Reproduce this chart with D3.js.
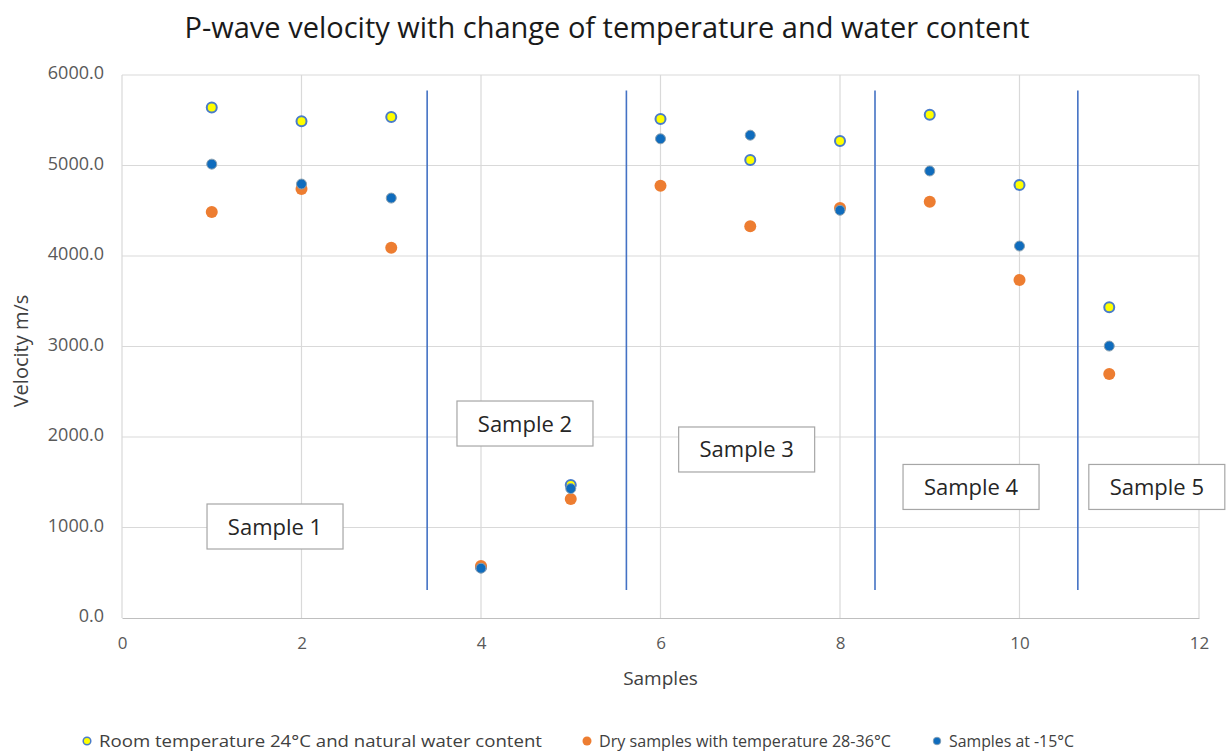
<!DOCTYPE html>
<html>
<head>
<meta charset="utf-8">
<script src="https://cdn.jsdelivr.net/npm/d3@7"></script>
<style>
  body { margin: 0; background: #fff; }
  svg text { font-family: "Open Sans", "Noto Sans", sans-serif; }
</style>
</head>
<body>
<svg id="chart" width="1230" height="754"></svg>
<script>
// P-wave velocity measurements per sample position
const samples = [1, 2, 3, 4, 5, 6, 7, 8, 9, 10, 11];
const roomTemp = [5640, 5490, 5535, 560, 1470, 5515, 5060, 5270, 5560, 4785, 3435];
const drySamples = [4485, 4740, 4090, 575, 1315, 4775, 4330, 4530, 4600, 3735, 2695];
const frozenSamples = [5015, 4795, 4640, 550, 1430, 5295, 5335, 4505, 4940, 4110, 3005];

const xTicks = [0, 2, 4, 6, 8, 10, 12];
const yTicks = [0, 1000, 2000, 3000, 4000, 5000, 6000];

// Group separators (x position in sample units) and group labels
const dividers = [3.4, 5.62, 8.39, 10.65];
const dividerSpan = [310, 5830];
const groupLabels = ["Sample 1", "Sample 2", "Sample 3", "Sample 4", "Sample 5"];
const groupLabelX = [1.705, 4.49, 6.96, 9.46, 11.53];
const groupLabelY = [1011, 2149, 1862, 1448, 1448];

const seriesNames = [
  "Room temperature 24\u00B0C and natural water content",
  "Dry samples with temperature 28-36\u00B0C",
  "Samples at -15\u00B0C"
];

const svg = d3.select("#chart");
const x = d3.scaleLinear().domain([0, 12]).range([122, 1199]);
const y = d3.scaleLinear().domain([0, 6000]).range([618, 75]);

// Title
svg.append("text")
  .attr("x", 607).attr("y", 38)
  .attr("text-anchor", "middle")
  .attr("font-size", 29)
  .attr("fill", "#1a1a1a")
  .text("P-wave velocity with change of temperature and water content");

// Gridlines
const grid = svg.append("g");
grid.selectAll(".hg").data(yTicks.slice(1)).join("line")
  .attr("x1", x(0)).attr("x2", x(12))
  .attr("y1", d => y(d)).attr("y2", d => y(d))
  .attr("stroke", "#d9d9d9").attr("stroke-width", 1.2);
grid.selectAll(".vg").data(xTicks).join("line")
  .attr("x1", d => x(d)).attr("x2", d => x(d))
  .attr("y1", y(0)).attr("y2", y(6000))
  .attr("stroke", "#d9d9d9").attr("stroke-width", 1.2);

// Axes
const xAxis = svg.append("g")
  .attr("transform", `translate(0,${y(0)})`)
  .call(d3.axisBottom(x).tickValues(xTicks).tickSize(0).tickPadding(19).tickFormat(d3.format("d")));
xAxis.select(".domain").attr("stroke", "#bfbfbf").attr("stroke-width", 1.2);
xAxis.selectAll("text").attr("font-size", 17).attr("fill", "#595959");

const yAxis = svg.append("g")
  .attr("transform", `translate(${x(0)},0)`)
  .call(d3.axisLeft(y).tickValues(yTicks).tickSize(0).tickPadding(18).tickFormat(d3.format(".1f")));
yAxis.select(".domain").remove();
yAxis.selectAll("text").attr("font-size", 18).attr("fill", "#595959").attr("dy", "0.2em");

// Axis titles
svg.append("text")
  .attr("x", x(6)).attr("y", 685)
  .attr("text-anchor", "middle").attr("font-size", 19).attr("fill", "#404040")
  .text("Samples");
svg.append("text")
  .attr("transform", `translate(28,${y(2950)}) rotate(-90)`)
  .attr("text-anchor", "middle").attr("font-size", 20).attr("fill", "#404040")
  .text("Velocity m/s");

// Group divider lines
svg.append("g").selectAll("line").data(dividers).join("line")
  .attr("x1", d => x(d)).attr("x2", d => x(d))
  .attr("y1", y(dividerSpan[0])).attr("y2", y(dividerSpan[1]))
  .attr("stroke", "#4472c4").attr("stroke-width", 1.6);

// Group label boxes
const labels = svg.append("g").selectAll("g").data(groupLabels).join("g")
  .attr("transform", (d, i) => `translate(${x(groupLabelX[i])},${y(groupLabelY[i])})`);
labels.append("rect")
  .attr("x", -68).attr("y", -22.5).attr("width", 136).attr("height", 45)
  .attr("fill", "#fff").attr("stroke", "#a6a6a6").attr("stroke-width", 1.2);
labels.append("text")
  .attr("text-anchor", "middle").attr("dy", 8)
  .attr("font-size", 22).attr("fill", "#262626")
  .text(d => d);

// Data markers
const toPts = vals => samples.map((s, i) => ({ s, v: vals[i] }));
const marks = svg.append("g");
marks.selectAll(".room").data(toPts(roomTemp)).join("circle")
  .attr("cx", d => x(d.s)).attr("cy", d => y(d.v)).attr("r", 5)
  .attr("fill", "#ffff00").attr("stroke", "#4a7cc9").attr("stroke-width", 2);
marks.selectAll(".dry").data(toPts(drySamples)).join("circle")
  .attr("cx", d => x(d.s)).attr("cy", d => y(d.v)).attr("r", 6)
  .attr("fill", "#ed7d31");
marks.selectAll(".cold").data(toPts(frozenSamples)).join("circle")
  .attr("cx", d => x(d.s)).attr("cy", d => y(d.v)).attr("r", 5)
  .attr("fill", "#0f6cbd").attr("stroke", "#8aa0b0").attr("stroke-width", 1);

// Legend
const legendX = [87, 587, 937];
const legendTextWidth = [443, 292, 125];
const legend = svg.append("g").selectAll("g").data(seriesNames).join("g")
  .attr("transform", (d, i) => `translate(${legendX[i]},741)`);
legend.append("circle").attr("r", (d, i) => i === 1 ? 4.5 : 3.8)
  .attr("fill", (d, i) => ["#ffff00", "#ed7d31", "#0f6cbd"][i])
  .attr("stroke", (d, i) => ["#4a7cc9", "none", "#8aa0b0"][i])
  .attr("stroke-width", (d, i) => i === 0 ? 1.5 : 0.8);
legend.append("text")
  .attr("x", 12).attr("dy", 6)
  .attr("font-size", 17).attr("fill", "#404040")
  .attr("textLength", (d, i) => legendTextWidth[i])
  .attr("lengthAdjust", "spacingAndGlyphs")
  .text(d => d);
</script>
</body>
</html>
